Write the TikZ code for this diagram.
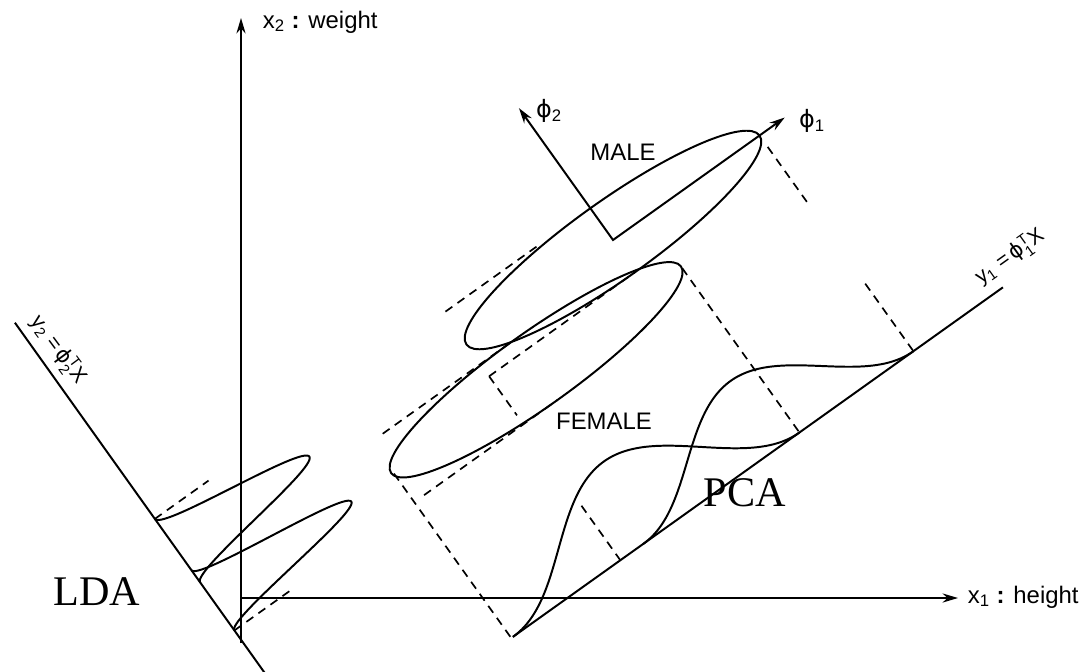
\documentclass[tikz,border=0pt]{standalone}
\usepackage{amsmath}
\usepackage{fontspec}
\setmainfont{Liberation Serif}
\setsansfont{Liberation Sans}
\newfontfamily\phifont{DejaVu Sans}
\usetikzlibrary{arrows.meta}
\begin{document}
\begin{tikzpicture}[x=0.025cm, y=-0.025cm, line width=1.4pt,
  tip/.style={-{Stealth[length=11pt,width=6.5pt]}},
  proj/.style={dash pattern=on 6pt off 4.5pt, line width=1.2pt},
  lab/.style={font=\sffamily\fontsize{17}{20}\selectfont, inner sep=0pt},
  axlab/.style={font=\sffamily\fontsize{15}{17}\selectfont, inner sep=0pt},
  big/.style={font=\rmfamily\fontsize{30}{34}\selectfont, inner sep=0pt},
  phiframe/.style={shift={(613,240)}, rotate=35.5, yscale=-1}]
\useasboundingbox (0,0) rectangle (1084,671);

% main axes
\coordinate (x2bot) at (241,643);
\coordinate (x2top) at (241,18);
\coordinate (x1left) at (241,598);
\coordinate (x1right) at (958,598);
\draw[tip] (x2bot) -- (x2top);
\draw[tip] (x1left) -- (x1right);
\node[lab, anchor=west] (x2lab) at (262,22) {x\textsubscript{2} \textbf{:} weight};
\node[lab, anchor=west] (x1lab) at (967,597) {x\textsubscript{1} \textbf{:} height};

\begin{scope}[phiframe]
  % principal axes phi1, phi2 from the male mean
  \coordinate (M) at (0,0);
  \coordinate (F) at (-138,-61);
  \coordinate (p1) at (211,0);
  \coordinate (p2) at (0,162);
  \draw[{Stealth[length=11pt,width=6.5pt]}-{Stealth[length=11pt,width=6.5pt]}] (p2) -- (M) -- (p1);
  % class ellipses
  \draw (M) ellipse [x radius=180, y radius=39];
  \draw (F) ellipse [x radius=178, y radius=37];
  % projection axes
  \coordinate (y1a) at (-312,-265);
  \coordinate (y1b) at (290,-265);
  \coordinate (y2a) at (-535,280);
  \coordinate (y2b) at (-535,-150);
  \draw (y1a) -- (y1b);
  \draw (y2a) -- (y2b);
  % PCA densities
  \draw plot[domain=-152:180, samples=90, smooth] (\x, {-265 + 41*(1+cos((\x-14)/166*180))});
  \draw plot[domain=-312:40, samples=90, smooth] (\x, {-265 + 45*(1+cos((\x+136)/176*180))});
  % LDA densities
  \draw plot[domain=-39:39, samples=70, smooth] ({-535 + 81*(1+cos(\x/39*180))}, \x);
  \draw plot[domain=-98:-24, samples=70, smooth] ({-535 + 85*(1+cos((\x+61)/37*180))}, \x);
  % PCA projection lines
  \draw[proj] (180,-14) -- (180,-84);
  \draw[proj] (180,-182) -- (180,-265);
  \draw[proj] (40,-63) -- (40,-265);
  \draw[proj] (-314,-63) -- (-314,-265);
  \draw[proj] (-180,-39) -- (-180,-87);
  \draw[proj] (-180,-198) -- (-180,-265);
  % LDA projection lines
  \draw[proj] (-180,-39) -- (0,-39);
  \draw[proj] (-178,39) -- (-63,39);
  \draw[proj] (-535,39) -- (-469,39);
  \draw[proj] (-300,-24) -- (-138,-24);
  \draw[proj] (-302,-98) -- (-138,-98);
  \draw[proj] (-535,-98) -- (-466,-98);
\end{scope}

% labels
\node[lab] (phi1) at (812,121) {{\phifont ϕ}\textsubscript{1}};
\node[lab] (phi2) at (549,111) {{\phifont ϕ}\textsubscript{2}};
\node[lab] (male) at (623,152) {MALE};
\node[lab] (female) at (604,421) {FEMALE};
\node[big] (pca) at (745,493) {PCA};
\node[big] (lda) at (97,592) {LDA};
\node[axlab, rotate=35.5] (y1lab) at (1010,257) {y$_{\text{\sffamily 1}}$ =\,{\phifont ϕ}$^{\text{\sffamily T}}_{\text{\sffamily 1}}$X};
\node[axlab, rotate=-53.5] (y2lab) at (58,350) {y$_{\text{\sffamily 2}}$ =\,{\phifont ϕ}$^{\text{\sffamily T}}_{\text{\sffamily 2}}$X};
\end{tikzpicture}
\end{document}
